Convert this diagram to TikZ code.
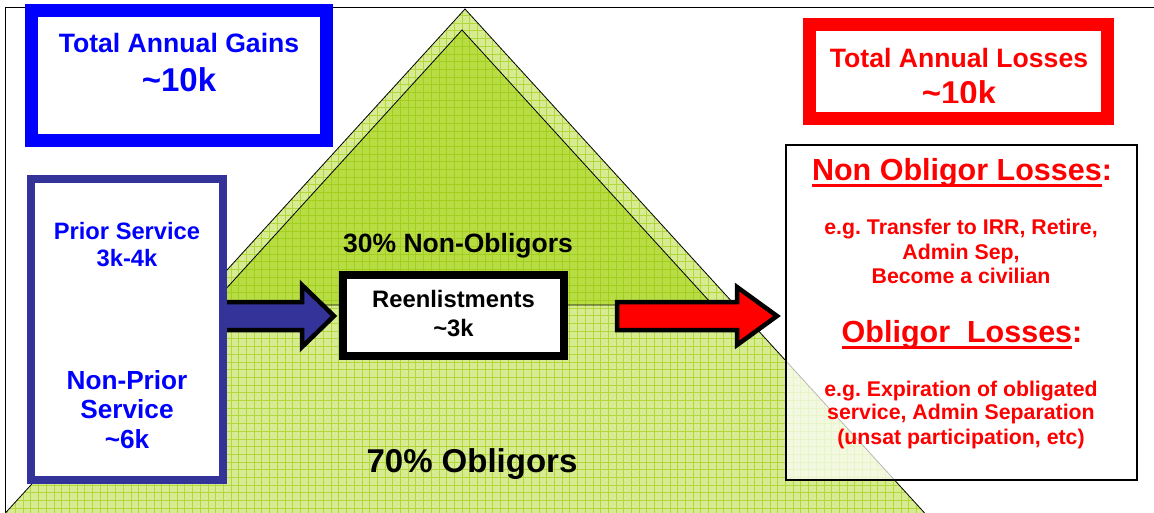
\documentclass[tikz,border=0pt]{standalone}
\usepackage{fontspec}
\setmainfont{Liberation Sans}
\frenchspacing
\definecolor{indigo}{RGB}{51,51,153}
\definecolor{lightfill}{RGB}{214,235,146}
\definecolor{lightgrid}{RGB}{178,216,60}
\definecolor{darkfill}{RGB}{184,221,68}
\definecolor{darkgrid}{RGB}{162,206,30}
\newcommand\fs[1]{\fontsize{#1pt}{#1pt}\selectfont\bfseries}
\newcommand\myul[1]{\setbox0\hbox{#1}\rlap{\rule[-6.5pt]{\wd0}{3pt}}\box0}
\newcommand\tl{\textasciitilde}
\begin{document}
\begin{tikzpicture}[x=1pt,y=-1pt,
  txt/.style={inner sep=0pt, anchor=base},
  boxnode/.style={fill=white, inner sep=0pt},
  blockarrow/.style={draw=black, line width=4.5pt, line join=miter, miter limit=10},
  triedge/.style={draw=black, line width=0.8pt}]
\useasboundingbox (0,0) rectangle (1154,512);
\clip (0,0) rectangle (1154,512);
% frame
\draw[line width=1.5pt] (5.5,530) -- (5.5,7.5) -- (1170,7.5);
% outer triangle
\coordinate (oa) at (465,9);
\coordinate (ol) at (-1,520);
\coordinate (or) at (931,520);
\fill[lightfill] (oa) -- (ol) -- (or) -- cycle;
\begin{scope}
  \clip (oa) -- (ol) -- (or) -- cycle;
  \foreach \i in {0,...,122} \draw[lightgrid, line width=0.8pt] ({\i*7.7},0) -- ({\i*7.7},520);
  \foreach \j in {0,...,68} \draw[lightgrid, line width=0.8pt] (0,{\j*7.7}) -- (940,{\j*7.7});
\end{scope}
\draw[triedge] (oa) -- (ol) -- (or) -- cycle;
% inner triangle
\coordinate (ia) at (462,30);
\coordinate (il) at (211.2,305);
\coordinate (ir) at (712.8,305);
\fill[darkfill] (ia) -- (il) -- (ir) -- cycle;
\begin{scope}
  \clip (ia) -- (il) -- (ir) -- cycle;
  \foreach \i in {0,...,122} \draw[darkgrid, line width=0.8pt] ({\i*7.7},0) -- ({\i*7.7},520);
  \foreach \j in {0,...,68} \draw[darkgrid, line width=0.8pt] (0,{\j*7.7}) -- (940,{\j*7.7});
\end{scope}
\draw[triedge] (ia) -- (il) -- (ir) -- cycle;
% right translucent box
\node[draw=black, line width=2pt, fill=white, fill opacity=0.72, inner sep=0pt,
  minimum width=351pt, minimum height=335pt] (losses) at (961.5,312.5) {};
% arrows
\draw[blockarrow, fill=indigo] (215,302) -- (302,302) -- (302,285) -- (334,316) -- (302,347) -- (302,330) -- (215,330) -- cycle;
\draw[blockarrow, fill=red] (617,302) -- (737,302) -- (737,287) -- (777,316) -- (737,345) -- (737,330) -- (617,330) -- cycle;
% boxes
\node[boxnode, draw=blue, line width=13pt, minimum width=295pt, minimum height=130pt] (gains) at (179,75.5) {};
\node[boxnode, draw=red, line width=13pt, minimum width=298pt, minimum height=94pt] (tloss) at (958.5,71.5) {};
\node[boxnode, draw=indigo, line width=8pt, minimum width=192pt, minimum height=301pt] (prior) at (127,329.5) {};
\node[boxnode, draw=black, line width=8pt, minimum width=221pt, minimum height=81pt] (reen) at (453.5,315.5) {};
% texts
\node[txt, text=blue] (g1) at (179,52) {\fs{26.6}Total Annual Gains};
\node[txt, text=blue] (g2) at (179,91) {\fs{33}\tl10k};
\node[txt, text=red] (l1) at (959,67) {\fs{26.6}Total Annual Losses};
\begin{scope}
  \clip (800,0) rectangle (1120,102);
  \node[txt, text=red] (l2) at (959,104) {\fs{33}\tl10k};
\end{scope}
\node[txt, text=blue] (p1) at (127,239) {\fs{23.7}Prior Service};
\node[txt, text=blue] (p2) at (127,266) {\fs{23.7}3k-4k};
\node[txt, text=blue] (p3) at (127,389) {\fs{26.2}Non-Prior};
\node[txt, text=blue] (p4) at (127,418) {\fs{26.2}Service};
\node[txt, text=blue] (p5) at (127,448) {\fs{26.2}\tl6k};
\node[txt] (n30) at (458,252) {\fs{26.5}30\% Non-Obligors};
\node[txt] (r1) at (453.5,307) {\fs{23.8}Reenlistments};
\node[txt] (r2) at (453.5,336) {\fs{23.8}\tl3k};
\node[txt] (n70) at (472,472) {\fs{33}70\% Obligors};
\node[txt, text=red] (h1) at (962,180) {\fs{30.5}\myul{Non Obligor Losses}:};
\node[txt, text=red] (e1) at (961,234) {\fs{21.3}e.g. Transfer to IRR, Retire,};
\node[txt, text=red] (e2) at (961,259) {\fs{21.3}Admin Sep,};
\node[txt, text=red] (e3) at (961,283) {\fs{21.3}Become a civilian};
\node[txt, text=red] (h2) at (962,342) {\fs{30.5}\myul{Obligor\ \ Losses}:};
\node[txt, text=red] (f1) at (961,396) {\fs{21.3}e.g. Expiration of obligated};
\node[txt, text=red] (f2) at (961,419) {\fs{21.3}service, Admin Separation};
\node[txt, text=red] (f3) at (961,444) {\fs{21.3}(unsat participation, etc)};
\end{tikzpicture}
\end{document}
